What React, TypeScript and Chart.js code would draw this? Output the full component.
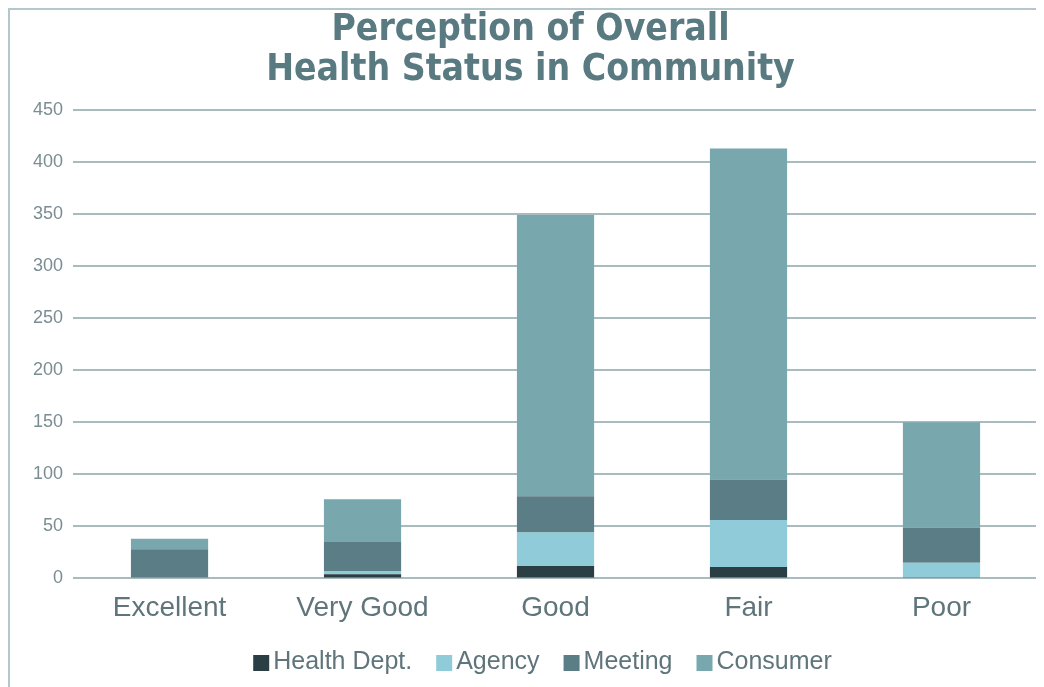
import React, { useEffect, useRef } from "react";
import { Chart, registerables } from "chart.js";

Chart.register(...registerables);

const categories = ["Excellent", "Very Good", "Good", "Fair", "Poor"];
const healthDept = [0, 4, 12, 11, 1];
const agency = [0, 3, 32, 45, 14];
const meeting = [28, 28, 35, 39, 34];
const consumer = [10, 41, 270, 318, 101];
const titleLines = ["Perception of Overall", "Health Status in Community"];

const LEGEND_FONT = "25px 'Liberation Sans', Arial, sans-serif";

const compactLegend = {
  id: "compactLegend",
  afterDraw(chart: any) {
    const ctx = chart.ctx;
    const box = 16;
    const gapBoxText = 4;
    const gapItems = 24;
    ctx.save();
    ctx.font = LEGEND_FONT;
    const items = chart.data.datasets.map((ds: any) => ({
      text: ds.label,
      color: ds.backgroundColor,
      w: ctx.measureText(ds.label).width,
    }));
    const total = items.reduce((s: number, it: any) => s + box + gapBoxText + it.w, 0) + gapItems * (items.length - 1);
    const center = (chart.chartArea.left + chart.chartArea.right) / 2 - 13;
    let x = center - total / 2;
    const y = chart.height - 25;
    ctx.textBaseline = "middle";
    ctx.textAlign = "left";
    items.forEach((it: any) => {
      ctx.fillStyle = it.color;
      ctx.fillRect(x, y - box / 2 + 1, box, box);
      x += box + gapBoxText;
      ctx.fillStyle = "#5f757b";
      ctx.fillText(it.text, x, y);
      x += it.w + gapItems;
    });
    ctx.restore();
  },
};

export default function App() {
  const ref = useRef<HTMLCanvasElement | null>(null);
  useEffect(() => {
    document.documentElement.style.overflow = "hidden";
    document.body.style.overflow = "hidden";
    if (!ref.current) return;
    const chart = new Chart(ref.current, {
      type: "bar",
      data: {
        labels: categories,
        datasets: [
          { label: "Health Dept.", data: healthDept, backgroundColor: "#2b3e43" },
          { label: "Agency", data: agency, backgroundColor: "#90cbd9" },
          { label: "Meeting", data: meeting, backgroundColor: "#5b7d85" },
          { label: "Consumer", data: consumer, backgroundColor: "#79a7ae" },
        ],
      },
      options: {
        responsive: false,
        animation: false,
        layout: { padding: { left: 13, right: 6, top: 0, bottom: 57 } },
        datasets: { bar: { categoryPercentage: 1, barPercentage: 0.4 } },
        plugins: {
          title: {
            display: true,
            text: titleLines,
            color: "#5a7a82",
            font: { family: "'Liberation Sans Narrow', 'DejaVu Sans Condensed', sans-serif", size: 37, weight: "bold", lineHeight: 1.08 },
            padding: { top: 0, bottom: 20 },
          },
          legend: { display: false },
          tooltip: { enabled: false },
        },
        scales: {
          x: {
            stacked: true,
            grid: { display: false },
            border: { display: false },
            ticks: { color: "#5f757b", font: { family: "'Liberation Sans', Arial, sans-serif", size: 28 }, padding: 5 },
          },
          y: {
            stacked: true,
            min: 0,
            max: 450,
            ticks: { stepSize: 50, color: "#7a8d92", font: { family: "'Liberation Sans', Arial, sans-serif", size: 18 }, padding: 10 },
            grid: { color: "#a8bcc0", lineWidth: 2, drawTicks: false },
            border: { display: false },
          },
        },
      },
      plugins: [compactLegend],
    });
    return () => chart.destroy();
  }, []);
  return (
    <div style={{ width: 1036, height: 679, borderTop: "2px solid #b5c7ca", borderLeft: "2px solid #b5c7ca", boxSizing: "border-box", background: "#fff" }}>
      <canvas ref={ref} width={1034} height={677} style={{ display: "block" }} />
    </div>
  );
}
